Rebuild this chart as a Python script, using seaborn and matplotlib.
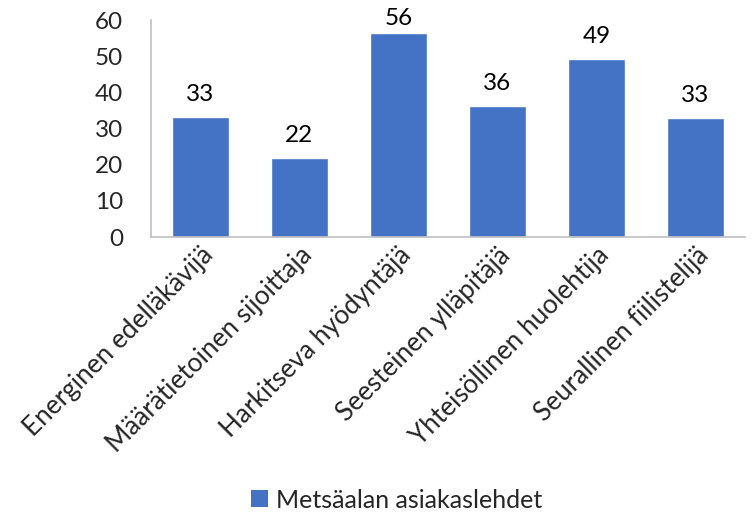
import matplotlib
matplotlib.use("Agg")
import matplotlib.pyplot as plt
import seaborn as sns
import pandas as pd
from matplotlib.patches import Patch

# Data
categories = ["Energinen edelläkävijä", "Määrätietoinen sijoittaja", "Harkitseva hyödyntäjä",
              "Seesteinen ylläpitäjä", "Yhteisöllinen huolehtija", "Seurallinen fiilistelijä"]
values = [33.2, 21.9, 56.3, 36.2, 49.2, 32.9]
series_name = "Metsäalan asiakaslehdet"
yticks = [0, 10, 20, 30, 40, 50, 60]

bar_color = "#4472C4"
axis_color = "#BFBFBF"
fs = 17.5

df = pd.DataFrame({"category": categories, "value": values})

sns.set_style("white")
plt.rcParams["font.family"] = ["Lato", "DejaVu Sans"]

fig = plt.figure(figsize=(7.56, 5.22), dpi=100)
ax = fig.add_axes([151 / 756, 1 - 237 / 522, 594 / 756, 217 / 522])

sns.barplot(data=df, x="category", y="value", color=bar_color, width=0.576,
            saturation=1, ax=ax)

# value labels (kept inside the figure for the tallest bar)
for i, v in enumerate(values):
    ax.text(i, min(v + 4.4, 58.6), f"{v:.0f}", ha="center", va="baseline",
            fontsize=fs, color="#000000", clip_on=False)

ax.set_ylim(0, 60)
ax.set_xlim(-0.5, len(categories) - 0.5)
ax.set_yticks(yticks)
ax.set_yticklabels([str(t) for t in yticks], fontsize=fs)
ax.tick_params(axis="y", length=0, pad=20)
ax.tick_params(axis="x", length=0, pad=4)
ax.set_xticks(range(len(categories)))
ax.set_xticklabels(categories, rotation=45, ha="right", va="top",
                   rotation_mode="anchor", fontsize=18.8)
ax.set_xlabel("")
ax.set_ylabel("")

for s in ["top", "right"]:
    ax.spines[s].set_visible(False)
for s in ["left", "bottom"]:
    ax.spines[s].set_color(axis_color)
    ax.spines[s].set_linewidth(1.2)

# legend at the bottom
handle = Patch(facecolor=bar_color, edgecolor="none")
fig.legend([handle], [series_name], loc="center", bbox_to_anchor=(0.525, 1 - 500 / 522),
           frameon=False, fontsize=18, handlelength=0.65, handleheight=0.65,
           handletextpad=0.35)

fig.savefig("out.png", dpi=100)
plt.close(fig)
